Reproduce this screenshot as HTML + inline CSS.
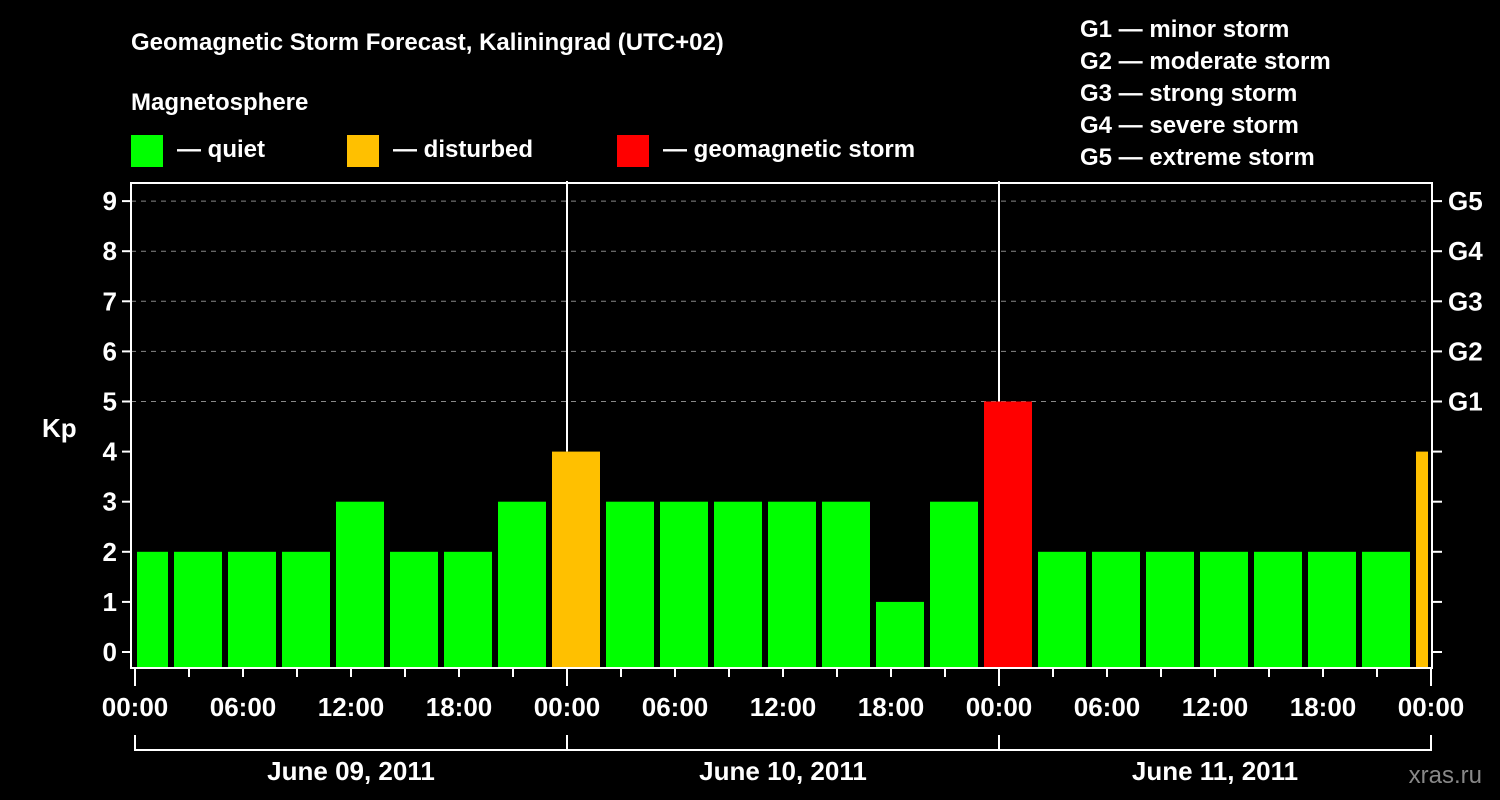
<!DOCTYPE html>
<html><head><meta charset="utf-8"><style>
body{margin:0;background:#000;width:1500px;height:800px;overflow:hidden}
svg{display:block;font-family:"Liberation Sans",Arial,sans-serif;font-weight:bold}
</style></head><body>
<svg id="c" width="1500" height="800">
<text x="131" y="50" fill="#fff" font-size="24">Geomagnetic Storm Forecast, Kaliningrad (UTC+02)</text>
<text x="131" y="110" fill="#fff" font-size="24">Magnetosphere</text>
<rect x="131" y="135" width="32" height="32" fill="#00ff00"/>
<text x="177" y="157" fill="#fff" font-size="24">— quiet</text>
<rect x="347" y="135" width="32" height="32" fill="#ffc000"/>
<text x="393" y="157" fill="#fff" font-size="24">— disturbed</text>
<rect x="617" y="135" width="32" height="32" fill="#ff0000"/>
<text x="663" y="157" fill="#fff" font-size="24">— geomagnetic storm</text>
<g fill="#fff" font-size="24">
<text x="1080" y="37">G1 — minor storm</text>
<text x="1080" y="69">G2 — moderate storm</text>
<text x="1080" y="101">G3 — strong storm</text>
<text x="1080" y="133">G4 — severe storm</text>
<text x="1080" y="165">G5 — extreme storm</text>
</g>
<text x="42" y="437" fill="#fff" font-size="26">Kp</text>
<text x="1482" y="783" fill="#888" font-size="24" text-anchor="end" font-weight="normal">xras.ru</text>
<g id="grid"></g><g id="bars"></g><g id="axes"></g>
</svg>
<script>
const kpValues=[2,2,2,2,3,2,2,3,4,3,3,3,3,3,1,3,5,2,2,2,2,2,2,2,4];
const yTicks=[0,1,2,3,4,5,6,7,8,9];
const gLabels=["G1","G2","G3","G4","G5"];
const gLevels=[5,6,7,8,9];
const hourLabels=["00:00","06:00","12:00","18:00","00:00","06:00","12:00","18:00","00:00","06:00","12:00","18:00","00:00"];
const dayLabels=["June 09, 2011","June 10, 2011","June 11, 2011"];
const NS="http://www.w3.org/2000/svg";
const L=131,R=1432,T=183,B=668,X0=135,DAY=432;
const y=v=>652-v*50.1;
const x=h=>X0+h*DAY/24;
function mk(tag,attrs,parent,txt){const e=document.createElementNS(NS,tag);for(const k in attrs)e.setAttribute(k,attrs[k]);if(txt!==undefined)e.textContent=txt;parent.appendChild(e);return e;}
const grid=document.getElementById('grid'),bars=document.getElementById('bars'),axes=document.getElementById('axes');
yTicks.forEach(v=>{if(v>=5){const g=mk('line',{x1:L,x2:R,y1:y(v),y2:y(v),stroke:'#888','stroke-dasharray':'5,5','stroke-width':1},grid);

}
const t=mk('line',{x1:L-9,x2:L,y1:y(v),y2:y(v),stroke:'#fff','stroke-width':2},axes);


const r=mk('line',{x1:R,x2:R+10,y1:y(v),y2:y(v),stroke:'#fff','stroke-width':2},axes);


const l=mk('text',{x:L-14,y:y(v)+9,fill:'#fff','font-size':26,'text-anchor':'end'},axes,String(v));

});
gLevels.forEach((v,i)=>{const l=mk('text',{x:1448,y:y(v)+9,fill:'#fff','font-size':26},axes,gLabels[i]);

});
kpValues.forEach((v,i)=>{let x1=x(i*3)-15,x2=x1+48;x1=Math.max(x1,L+6);x2=Math.min(x2,R-4);
const c=v>=5?'#ff0000':(v>=4?'#ffc000':'#00ff00');
const b=mk('rect',{x:x1,y:y(v),width:x2-x1,height:B-y(v),fill:c},bars);

});
[1,2].forEach(d=>{const l=mk('line',{x1:x(d*24),x2:x(d*24),y1:T-2,y2:y(kpValues[d*8]),stroke:'#fff','stroke-width':2},grid);

});
const f=mk('rect',{x:L,y:T,width:R-L,height:B-T,fill:'none',stroke:'#fff','stroke-width':2},axes);


for(let h=0;h<=72;h+=3){const big=h%24===0;const t=mk('line',{x1:x(h),x2:x(h),y1:B,y2:B+(big?18:9),stroke:'#fff','stroke-width':2},axes);

}
hourLabels.forEach((s,i)=>{const t=mk('text',{x:x(i*6),y:716,fill:'#fff','font-size':26,'text-anchor':'middle'},axes,s);

});
const br=mk('polyline',{points:`${x(0)},735 ${x(0)},750 ${x(72)},750 ${x(72)},735`,fill:'none',stroke:'#fff','stroke-width':2},axes);


dayLabels.forEach((s,i)=>{const v=mk('line',{x1:x(i*24),x2:x(i*24),y1:735,y2:750,stroke:'#fff','stroke-width':2},axes);


const t=mk('text',{x:x(i*24+12),y:780,fill:'#fff','font-size':26,'text-anchor':'middle'},axes,s);

});
</script>
</body></html>
